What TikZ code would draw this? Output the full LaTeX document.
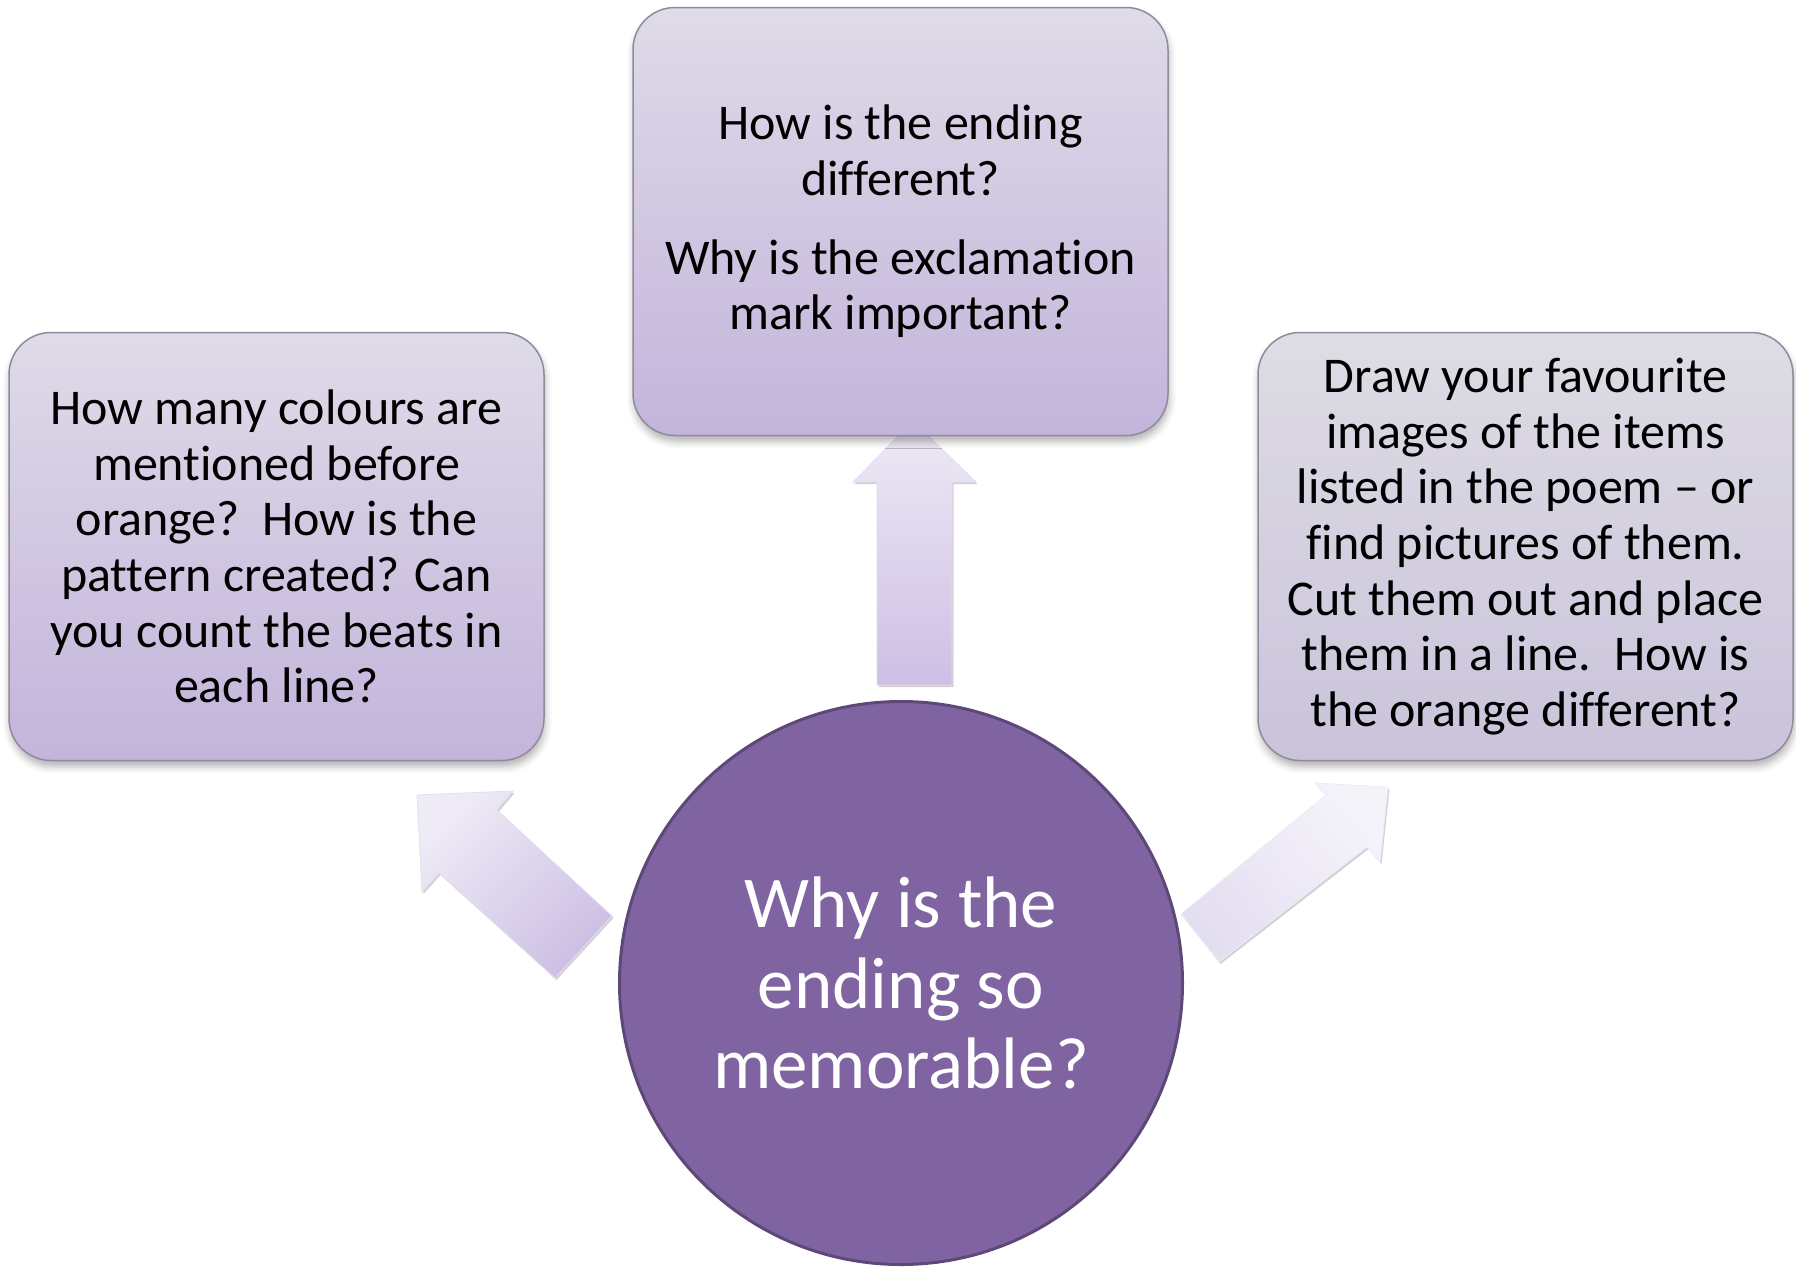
\documentclass[tikz,border=0pt]{standalone}
\usepackage{fontspec}
\setmainfont{Carlito}[Ligatures={TeX,NoCommon}]
\usetikzlibrary{shadows,shadows.blur}

\definecolor{boxtop}{HTML}{DFDBE8}
\definecolor{boxbot}{HTML}{C3B4DB}
\definecolor{greytop}{HTML}{DEDCE4}
\definecolor{greybot}{HTML}{CAC3DB}
\definecolor{arrtop}{HTML}{EEEAF6}
\definecolor{arrbot}{HTML}{CDBFE4}
\definecolor{palearrtop}{HTML}{F5F3FA}
\definecolor{palearrbot}{HTML}{E4DEF1}
\definecolor{mainfill}{HTML}{8064A2}
\definecolor{mainline}{HTML}{5E4878}
\definecolor{boxline}{HTML}{8F8B9B}

\begin{document}
\begin{tikzpicture}[x=1pt, y=-1pt,
    box/.style={rectangle, rounded corners=42pt, draw=boxline, line width=1.5pt,
      minimum width=535pt, minimum height=428pt, align=center,
      font=\fontsize{50}{55.7}\selectfont,
      blur shadow={shadow xshift=1pt, shadow yshift=-6pt, shadow blur radius=7pt, shadow opacity=30}},
    blockarrow/.style={line width=0.8pt,
      drop shadow={shadow xshift=1.5pt, shadow yshift=-2pt, opacity=0.18, fill=black}}]
    \useasboundingbox (0,0) rectangle (1796,1269);

    % Block arrows
    \shadedraw[blockarrow, draw=arrtop!70!arrbot, top color=arrtop, bottom color=arrbot]
      (913,421) -- (976,482) -- (952,482) -- (952,685) -- (877,685) -- (877,482) -- (853,482) -- cycle;
    \shadedraw[blockarrow, draw=arrtop!70!arrbot, top color=arrtop, bottom color=arrbot, shading angle=45]
      (417,795) -- (513,791) -- (497,810) -- (612,916) -- (555,978) -- (439,873) -- (422,892) -- cycle;
    \shadedraw[blockarrow, draw=palearrtop!60!palearrbot, top color=palearrtop, bottom color=palearrbot, shading angle=-50]
      (1388,787) -- (1380,862) -- (1367,847) -- (1219,962) -- (1181,914) -- (1326,795) -- (1315,783) -- cycle;

    % Question boxes
    \node[box, top color=boxtop, bottom color=boxbot] (T) at (900.5,221.5)
      {How is the ending\\ different?\\[23pt] Why is the exclamation\\ mark important?};
    \node[box, top color=boxtop, bottom color=boxbot] (L) at (276.5,546.5)
      {How many colours are\\ mentioned before\\ orange?\ \ How is the\\ pattern created? Can\\ you count the beats in\\ each line?};
    \node[box, top color=greytop, bottom color=greybot] (R) at (1525.5,546.5)
      {Draw your favourite\\ images of the items\\ listed in the poem – or\\ find pictures of them.\\ Cut them out and place\\ them in a line.\ \ How is\\ the orange different?};

    % Main question
    \node[circle, fill=mainfill, draw=mainline, line width=3pt, minimum size=563pt,
      text=white, align=center, font=\fontsize{73}{80.8}\selectfont] (M) at (901,983)
      {Why is the\\ ending so\\ memorable?};

\end{tikzpicture}
\end{document}
